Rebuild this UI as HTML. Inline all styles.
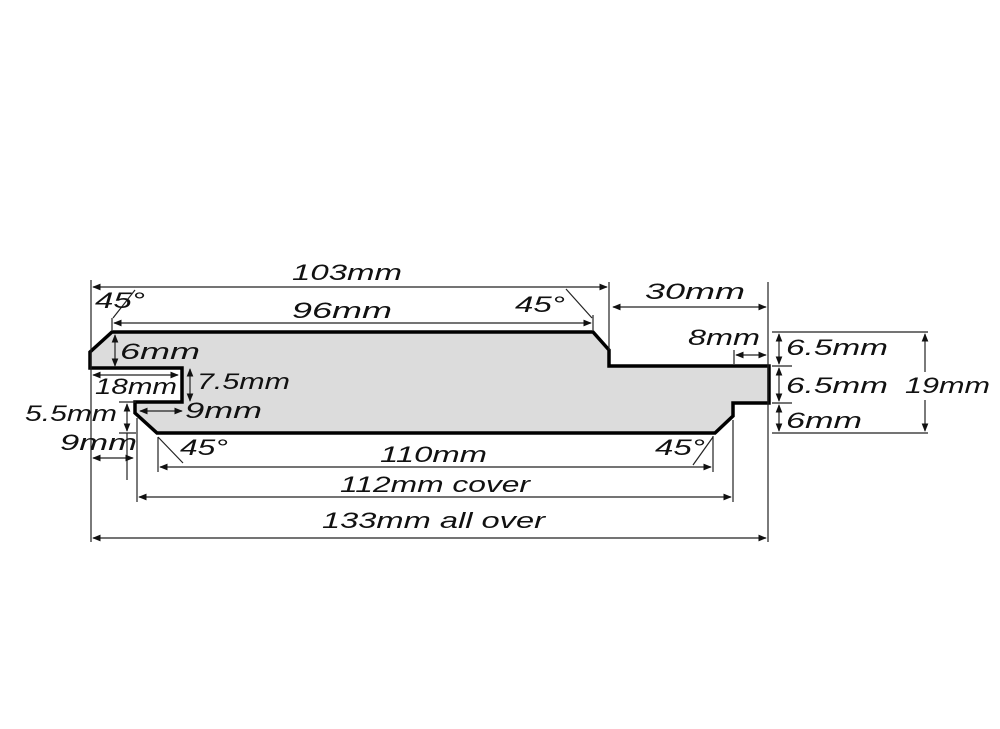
<!DOCTYPE html>
<html><head><meta charset="utf-8"><style>
html,body{margin:0;padding:0;background:#fff;}
svg{display:block}
text{font-family:"Liberation Sans",sans-serif;font-style:italic;font-size:22px;fill:#111;}
</style></head><body>
<svg width="1000" height="729" viewBox="0 0 1000 729" xmlns="http://www.w3.org/2000/svg">
<defs>
<marker id="a" viewBox="0 0 10 10" refX="9" refY="5" markerWidth="7" markerHeight="7" orient="auto-start-reverse"><path d="M0,1 L10,5 L0,9 Z" fill="#111"/></marker>
</defs>
<rect width="1000" height="729" fill="#fff"/>
<path d="M112,332 L593,332 L609,350 L609,366 L769,366 L769,403 L733,403 L733,416 L715,433 L157,433 L135,413 L135,402 L182,402 L182,368 L90,368 L90,352 Z" fill="#dcdcdc" stroke="#000" stroke-width="3.5" stroke-linejoin="miter"/>
<g stroke="#222" stroke-width="1.2" fill="none">
<line x1="91" y1="280" x2="91" y2="542"/>
<line x1="768" y1="282" x2="768" y2="542"/>
<line x1="609" y1="282" x2="609" y2="350"/>
<line x1="112" y1="318" x2="112" y2="330"/>
<line x1="593" y1="315" x2="593" y2="330"/>
<line x1="137" y1="418" x2="137" y2="502"/>
<line x1="158" y1="437" x2="158" y2="472"/>
<line x1="713" y1="436" x2="713" y2="472"/>
<line x1="733" y1="420" x2="733" y2="502"/>
<line x1="734" y1="350" x2="734" y2="364"/>
<line x1="772" y1="332" x2="928" y2="332"/>
<line x1="772" y1="366" x2="792" y2="366"/>
<line x1="772" y1="403" x2="792" y2="403"/>
<line x1="772" y1="433" x2="928" y2="433"/>
<line x1="119" y1="402" x2="136" y2="402"/>
<line x1="119" y1="433" x2="136" y2="433"/>
<line x1="127" y1="433" x2="127" y2="480"/>
<line x1="113" y1="318" x2="135" y2="290"/>
<line x1="566" y1="289" x2="592" y2="318"/>
<line x1="158" y1="437" x2="183" y2="463"/>
<line x1="713" y1="437" x2="693" y2="465"/>
<line x1="93" y1="287" x2="607" y2="287" marker-start="url(#a)" marker-end="url(#a)"/>
<line x1="114" y1="323" x2="591" y2="323" marker-start="url(#a)" marker-end="url(#a)"/>
<line x1="613" y1="307" x2="766" y2="307" marker-start="url(#a)" marker-end="url(#a)"/>
<line x1="736" y1="355" x2="766" y2="355" marker-start="url(#a)" marker-end="url(#a)"/>
<line x1="779" y1="334" x2="779" y2="364" marker-start="url(#a)" marker-end="url(#a)"/>
<line x1="779" y1="368" x2="779" y2="401" marker-start="url(#a)" marker-end="url(#a)"/>
<line x1="779" y1="405" x2="779" y2="431" marker-start="url(#a)" marker-end="url(#a)"/>
<line x1="925" y1="334" x2="925" y2="372" marker-start="url(#a)"/>
<line x1="925" y1="400" x2="925" y2="431" marker-end="url(#a)"/>
<line x1="160" y1="467" x2="711" y2="467" marker-start="url(#a)" marker-end="url(#a)"/>
<line x1="139" y1="497" x2="731" y2="497" marker-start="url(#a)" marker-end="url(#a)"/>
<line x1="93" y1="538" x2="766" y2="538" marker-start="url(#a)" marker-end="url(#a)"/>
<line x1="115" y1="335" x2="115" y2="366" marker-start="url(#a)" marker-end="url(#a)"/>
<line x1="93" y1="375" x2="178" y2="375" marker-start="url(#a)" marker-end="url(#a)"/>
<line x1="190" y1="369" x2="190" y2="401" marker-start="url(#a)" marker-end="url(#a)"/>
<line x1="140" y1="411" x2="182" y2="411" marker-start="url(#a)" marker-end="url(#a)"/>
<line x1="127" y1="404" x2="127" y2="431" marker-start="url(#a)" marker-end="url(#a)"/>
<line x1="93" y1="458" x2="133" y2="458" marker-start="url(#a)" marker-end="url(#a)"/>
</g>
<g>
<text x="292" y="280" textLength="110" lengthAdjust="spacingAndGlyphs">103mm</text>
<text x="292" y="318" textLength="100" lengthAdjust="spacingAndGlyphs">96mm</text>
<text x="95" y="308" textLength="50" lengthAdjust="spacingAndGlyphs">45°</text>
<text x="515" y="312" textLength="50" lengthAdjust="spacingAndGlyphs">45°</text>
<text x="645" y="299" textLength="100" lengthAdjust="spacingAndGlyphs">30mm</text>
<text x="688" y="345" textLength="72" lengthAdjust="spacingAndGlyphs">8mm</text>
<text x="786" y="355" textLength="102" lengthAdjust="spacingAndGlyphs">6.5mm</text>
<text x="786" y="393" textLength="102" lengthAdjust="spacingAndGlyphs">6.5mm</text>
<text x="786" y="428" textLength="76" lengthAdjust="spacingAndGlyphs">6mm</text>
<text x="905" y="393" textLength="85" lengthAdjust="spacingAndGlyphs">19mm</text>
<text x="120" y="359" textLength="80" lengthAdjust="spacingAndGlyphs">6mm</text>
<text x="95" y="394" textLength="82" lengthAdjust="spacingAndGlyphs">18mm</text>
<text x="197" y="389" textLength="93" lengthAdjust="spacingAndGlyphs">7.5mm</text>
<text x="185" y="418" textLength="77" lengthAdjust="spacingAndGlyphs">9mm</text>
<text x="25" y="421" textLength="92" lengthAdjust="spacingAndGlyphs">5.5mm</text>
<text x="60" y="450" textLength="77" lengthAdjust="spacingAndGlyphs">9mm</text>
<text x="180" y="455" textLength="48" lengthAdjust="spacingAndGlyphs">45°</text>
<text x="655" y="455" textLength="50" lengthAdjust="spacingAndGlyphs">45°</text>
<text x="380" y="462" textLength="107" lengthAdjust="spacingAndGlyphs">110mm</text>
<text x="340" y="492" textLength="190" lengthAdjust="spacingAndGlyphs">112mm cover</text>
<text x="322" y="528" textLength="223" lengthAdjust="spacingAndGlyphs">133mm all over</text>
</g>
</svg>
</body></html>
